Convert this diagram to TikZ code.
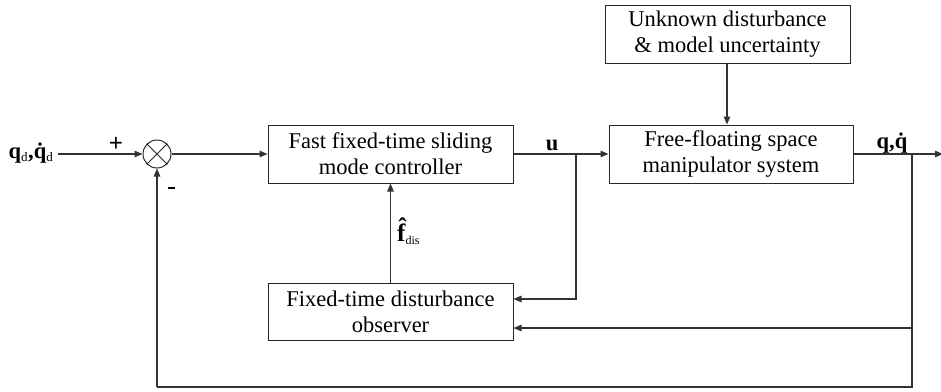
\documentclass[tikz,border=0pt]{standalone}
\usepackage{fontspec}
\setmainfont{Liberation Serif}
\usetikzlibrary{arrows.meta}
\begin{document}
\begin{tikzpicture}[x=1pt,y=-1pt,
  font=\fontsize{22.5}{26}\selectfont,
  blk/.style={draw=black!85, line width=1pt, align=center, inner sep=1pt, minimum width=245pt, minimum height=58pt},
  wire/.style={draw=black!80, line width=1.1pt},
  arr/.style={wire, -{Triangle[length=8pt,width=6.5pt]}},
  lbl/.style={font=\fontsize{22.5}{26}\selectfont\bfseries, inner sep=0pt}
]
\useasboundingbox (0,0) rectangle (941,391);

\node[blk] (dist) at (727.5,34) {Unknown disturbance\\ \& model uncertainty};
\node[blk, minimum width=244pt] (sys) at (731,154) {Free-floating space\\ manipulator system};
\node[blk] (ctrl) at (390.5,154) {Fast fixed-time sliding\\ mode controller};
\node[blk, minimum height=57pt] (obs) at (390.5,311.5) {Fixed-time disturbance\\ observer};
\node[draw=black!85, line width=1pt, circle, minimum size=28pt, inner sep=0pt] (sum) at (157,154) {};
\draw[line width=1pt, black!85] (sum.45) -- (sum.225) (sum.135) -- (sum.315);

\coordinate (in) at (58,154);
\coordinate (ub) at (576,154);
\coordinate (qb) at (912,154);
\coordinate (out) at (943,154);
\coordinate (bl) at (157,387);
\coordinate (br) at (912,387);
\path (obs.east) ++(0,-12.5) coordinate (o1);
\path (obs.east) ++(0,16.5) coordinate (o2);

\draw[arr] (in) -- (sum);
\draw[arr] (sum) -- (ctrl);
\draw[arr] (ctrl) -- (sys);
\draw[arr] (dist.south -| 727,0) -- (sys.north -| 727,0);
\draw[arr] (sys) -- (out);
\draw[arr] (ub) |- (o1);
\draw[wire] (qb) -- (br) -- (bl);
\draw[arr] (bl) -- (sum);
\draw[arr] (qb |- o2) -- (o2);
\draw[arr] (obs) -- (ctrl);

\node[lbl] (qd) at (31,153) {q\textsubscript{\fontsize{13}{14}\selectfont\mdseries d},\.q\textsubscript{\fontsize{13}{14}\selectfont\mdseries d}};
\node[lbl, font=\fontsize{25}{26}\selectfont\bfseries] (plus) at (116,144) {+};
\node[lbl] (minus) at (171,188) {\rule{7pt}{2.2pt}};
\node[lbl] (u) at (552,145) {u};
\node[lbl] (q) at (892,143) {q,\.q};
\node[lbl, anchor=base west, font=\fontsize{25}{26}\selectfont\bfseries] (f) at (397,241) {\^f\textsubscript{\fontsize{12}{13}\selectfont\mdseries dis}};
\end{tikzpicture}
\end{document}
